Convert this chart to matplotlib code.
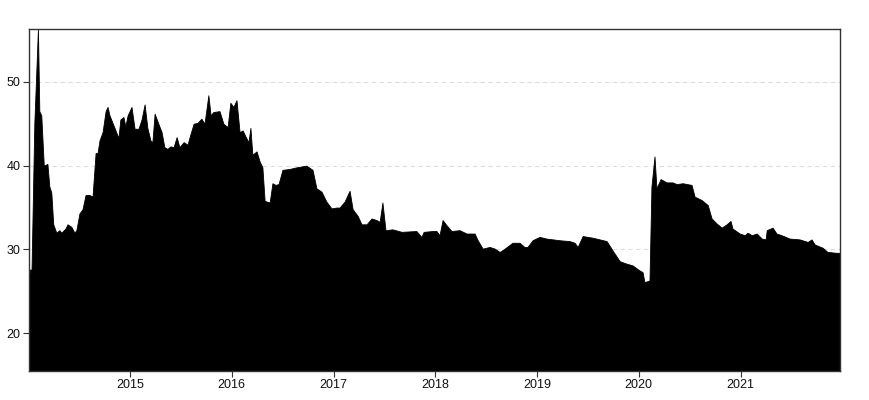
import pandas as pd
import matplotlib.pyplot as plt
import matplotlib.dates as mdates

dates = [
    "2014-01-03", "2014-01-06", "2014-01-12", "2014-01-22", "2014-02-04", "2014-02-09",
    "2014-02-16", "2014-02-25", "2014-03-10", "2014-03-17", "2014-03-24", "2014-03-31",
    "2014-04-11", "2014-04-22", "2014-04-29", "2014-05-14", "2014-05-21", "2014-06-04",
    "2014-06-15", "2014-06-22", "2014-07-03", "2014-07-14", "2014-07-25", "2014-08-08",
    "2014-08-19", "2014-08-30", "2014-09-06", "2014-09-13", "2014-09-24", "2014-10-05",
    "2014-10-12", "2014-10-19", "2014-11-06", "2014-11-20", "2014-11-27", "2014-12-08",
    "2014-12-15", "2014-12-23", "2015-01-06", "2015-01-17", "2015-01-31", "2015-02-11",
    "2015-02-22", "2015-03-04", "2015-03-15", "2015-03-22", "2015-03-30", "2015-04-09",
    "2015-04-24", "2015-05-04", "2015-05-15", "2015-05-26", "2015-06-06", "2015-06-17",
    "2015-06-27", "2015-07-12", "2015-07-26", "2015-08-06", "2015-08-17", "2015-08-31",
    "2015-09-14", "2015-09-25", "2015-10-09", "2015-10-17", "2015-10-27", "2015-11-18",
    "2015-12-02", "2015-12-17", "2015-12-27", "2016-01-07", "2016-01-18", "2016-01-29",
    "2016-02-09", "2016-02-19", "2016-03-01", "2016-03-08", "2016-03-15", "2016-03-30",
    "2016-04-10", "2016-04-20", "2016-04-28", "2016-05-16", "2016-05-26", "2016-06-06",
    "2016-06-17", "2016-07-01", "2016-07-26", "2016-08-21", "2016-09-25", "2016-10-17",
    "2016-10-31", "2016-11-18", "2016-12-06", "2016-12-24", "2017-01-11", "2017-01-22",
    "2017-02-09", "2017-02-27", "2017-03-10", "2017-03-28", "2017-04-11", "2017-04-29",
    "2017-05-17", "2017-06-04", "2017-06-15", "2017-06-25", "2017-07-06", "2017-07-31",
    "2017-09-02", "2017-10-25", "2017-11-12", "2017-11-20", "2017-12-22", "2018-01-05",
    "2018-01-16", "2018-01-27", "2018-02-10", "2018-02-28", "2018-03-29", "2018-04-23",
    "2018-05-22", "2018-06-02", "2018-06-20", "2018-07-15", "2018-08-02", "2018-08-20",
    "2018-09-07", "2018-10-05", "2018-10-30", "2018-11-17", "2018-11-28", "2018-12-16",
    "2019-01-10", "2019-02-04", "2019-03-23", "2019-04-28", "2019-05-16", "2019-05-27",
    "2019-06-14", "2019-07-20", "2019-09-08", "2019-09-29", "2019-10-25", "2019-11-19",
    "2019-12-10", "2020-01-04", "2020-01-15", "2020-01-22", "2020-02-09", "2020-02-16",
    "2020-02-27", "2020-03-05", "2020-03-20", "2020-04-10", "2020-05-02", "2020-05-16",
    "2020-06-07", "2020-07-09", "2020-07-20", "2020-08-14", "2020-09-05", "2020-09-19",
    "2020-10-07", "2020-10-25", "2020-11-12", "2020-11-26", "2020-12-03", "2020-12-29",
    "2021-01-16", "2021-01-26", "2021-02-10", "2021-02-28", "2021-03-18", "2021-04-01",
    "2021-04-05", "2021-04-26", "2021-05-10", "2021-05-28", "2021-06-26", "2021-08-01",
    "2021-08-30", "2021-09-13", "2021-09-24", "2021-10-23", "2021-11-09", "2021-12-12",
    "2021-12-24",
]

values = [
    26.3, 27.6, 27.6, 45.0, 56.3, 46.5,
    46.0, 40.0, 40.2, 37.5, 36.8, 33.0,
    32.0, 32.3, 32.0, 32.5, 33.0, 32.7,
    32.0, 32.3, 34.3, 34.8, 36.5, 36.5,
    36.3, 41.5, 41.5, 43.0, 44.0, 46.5,
    47.0, 46.0, 44.5, 43.3, 45.5, 45.8,
    44.7, 46.0, 47.0, 44.4, 44.4, 45.5,
    47.3, 44.5, 43.0, 42.8, 46.2, 45.3,
    44.0, 42.2, 42.0, 42.3, 42.2, 43.4,
    42.2, 42.8, 42.5, 43.8, 45.0, 45.1,
    45.6, 45.0, 48.4, 46.0, 46.4, 46.5,
    45.0, 44.6, 47.5, 47.0, 47.8, 44.0,
    44.2, 43.5, 42.8, 44.5, 41.3, 41.7,
    40.5, 39.8, 35.8, 35.6, 37.9, 37.7,
    37.8, 39.5, 39.6, 39.8, 40.0, 39.5,
    37.3, 36.9, 35.7, 34.9, 35.0, 35.0,
    35.7, 37.0, 34.8, 34.0, 33.0, 33.0,
    33.7, 33.5, 33.3, 35.6, 32.3, 32.4,
    32.1, 32.2, 31.5, 32.1, 32.2, 32.2,
    31.7, 33.5, 32.9, 32.2, 32.3, 31.9,
    31.9, 31.1, 30.1, 30.3, 30.1, 29.7,
    30.1, 30.8, 30.8, 30.3, 30.3, 31.1,
    31.5, 31.3, 31.1, 31.0, 30.8, 30.3,
    31.6, 31.4, 31.0, 29.9, 28.6, 28.3,
    28.1, 27.5, 27.3, 26.1, 26.3, 37.5,
    41.1, 37.3, 38.4, 38.0, 38.0, 37.8,
    37.9, 37.7, 36.3, 35.9, 35.3, 33.7,
    33.1, 32.6, 33.0, 33.4, 32.5, 31.9,
    31.7, 32.0, 31.7, 31.9, 31.3, 31.2,
    32.3, 32.6, 31.9, 31.7, 31.3, 31.2,
    30.9, 31.2, 30.6, 30.2, 29.7, 29.6,
    29.6,
]

x = pd.to_datetime(dates)
y_bottom = 15.5
y_top = 56.3

fig = plt.figure(figsize=(8.69, 4.0), dpi=100)
ax = fig.add_axes([0.0334, 0.0725, 0.9332, 0.855])

ax.fill_between(x, values, y_bottom, color='black', linewidth=0.6, zorder=2)

ax.set_xlim(x[0], x[-1])
ax.set_ylim(y_bottom, y_top)
ax.set_yticks([20, 30, 40, 50])
ax.xaxis.set_major_locator(mdates.YearLocator())
ax.xaxis.set_major_formatter(mdates.DateFormatter('%Y'))

ax.grid(axis='y', color='#dddddd', linestyle=(0, (4, 3)), linewidth=0.8, zorder=0)
ax.set_axisbelow(True)

for s in ax.spines.values():
    s.set_color('#333333')
    s.set_linewidth(1.0)

ax.tick_params(axis='both', direction='out', length=4, width=0.8, color='#333333',
               labelsize=9, labelcolor='#111111', pad=2)
for lab in ax.get_xticklabels() + ax.get_yticklabels():
    lab.set_family('Liberation Sans')

fig.savefig('out.png', dpi=100)
